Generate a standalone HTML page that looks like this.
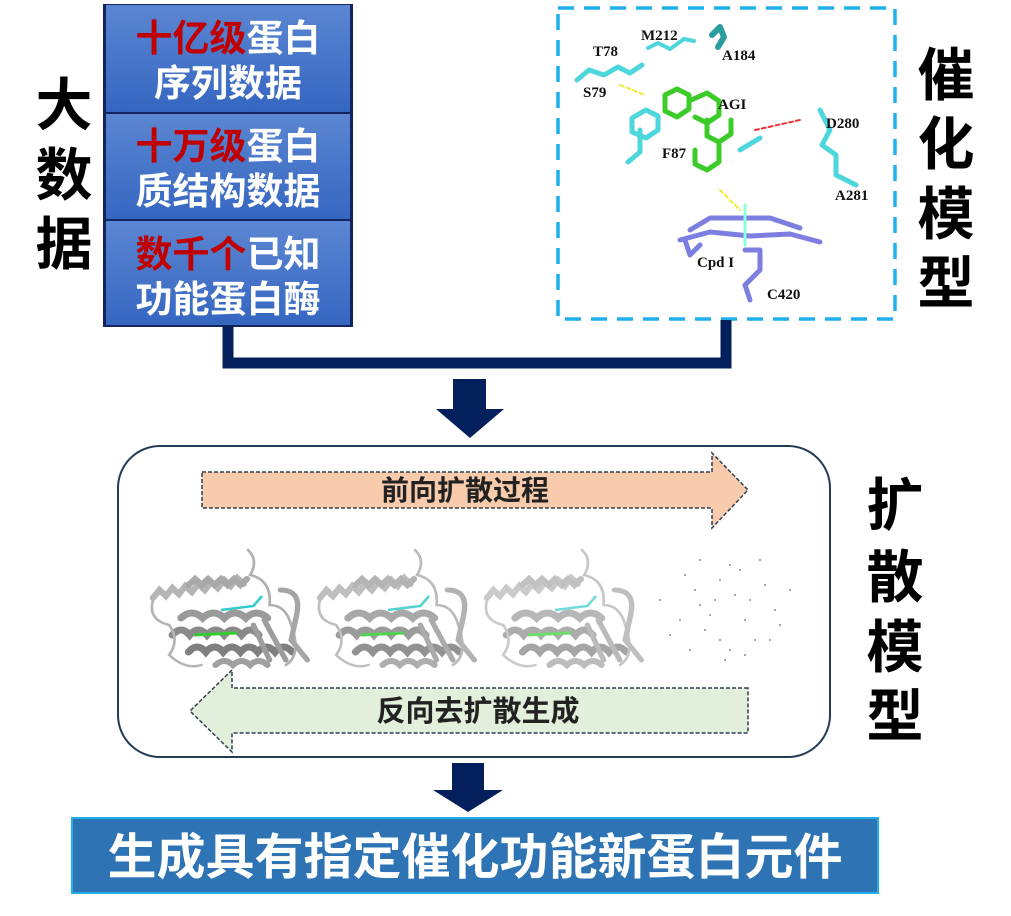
<!DOCTYPE html>
<html><head><meta charset="utf-8"><style>
html,body{margin:0;padding:0;background:#fff;}
svg{display:block;}
text{font-family:"Liberation Sans","Noto Sans CJK SC",sans-serif;font-weight:bold;}
</style></head><body>
<svg width="1011" height="916" viewBox="0 0 1011 916" xmlns="http://www.w3.org/2000/svg">
<defs>
<linearGradient id="bg" x1="0" y1="0" x2="0" y2="1">
<stop offset="0" stop-color="#5b86d2"/><stop offset="1" stop-color="#3566c0"/>
</linearGradient>
<g id="prot">
 <g fill="none" stroke="#9a9a9a" stroke-linecap="round">
  <path d="M12 58 l6 -8 l6 6 l6 -8 l6 6 l6 -8 l6 6 l6 -8 l6 6 l6 -8 l6 6 l6 -8 l6 6 l6 -8 l6 6" stroke-width="6" stroke="#b5b5b5"/>
  <path d="M45 45 l6 -6 l6 6 l6 -6 l6 6 l6 -6 l6 6 l6 -6 l6 6 l6 -6" stroke-width="6" stroke="#a8a8a8"/>
  <path d="M38 78 q10 -10 20 0 q10 -10 20 0 q10 -10 20 0 q10 -10 20 0" stroke-width="7"/>
  <path d="M30 95 q8 -10 16 0 q8 -10 16 0 q8 -10 16 0 q8 -10 16 0 q8 -10 16 0" stroke-width="7" stroke="#8a8a8a"/>
  <path d="M45 112 q8 -10 16 0 q8 -10 16 0 q8 -10 16 0 q8 -10 16 0 q8 -10 16 0 q8 -10 16 0" stroke-width="7" stroke="#7f7f7f"/>
  <path d="M70 125 q8 -8 16 0 q8 -8 16 0 q8 -8 16 0" stroke-width="6" stroke="#a0a0a0"/>
  <path d="M100 10 q10 10 2 25 q20 5 18 30 q15 0 20 20 q10 30 -5 40" stroke-width="2.5" stroke="#b0b0b0"/>
  <path d="M130 50 q20 0 15 25 l-5 25 l15 20" stroke-width="5" stroke="#a5a5a5"/>
  <path d="M12 60 q-5 20 15 25 q10 15 0 30 q15 15 30 10" stroke-width="2.5" stroke="#b5b5b5"/>
  <path d="M115 80 l20 40 M105 85 l15 35" stroke-width="5" stroke="#9d9d9d"/>
 </g>
 <path d="M75 70 l30 -4 l8 -10" stroke="#3cc" stroke-width="2.5" fill="none"/>
 <path d="M50 95 l40 -2" stroke="#3c3" stroke-width="3" fill="none"/>
</g>
</defs>

<!-- left vertical label -->
<text x="64" y="125" font-size="57" text-anchor="middle" fill="#000">大</text>
<text x="64" y="195" font-size="57" text-anchor="middle" fill="#000">数</text>
<text x="64" y="264" font-size="57" text-anchor="middle" fill="#000">据</text>

<!-- blue data box -->
<rect x="103" y="4" width="250" height="323" fill="#13245e"/>
<rect x="106" y="5" width="244" height="107" fill="url(#bg)"/>
<rect x="106" y="114" width="244" height="105" fill="url(#bg)"/>
<rect x="106" y="221" width="244" height="104" fill="url(#bg)"/>
<g font-size="37" text-anchor="middle">
<text x="228" y="51"><tspan fill="#c00000">十亿级</tspan><tspan fill="#fff">蛋白</tspan></text>
<text x="228" y="96" fill="#fff">序列数据</text>
<text x="228" y="159"><tspan fill="#c00000">十万级</tspan><tspan fill="#fff">蛋白</tspan></text>
<text x="228" y="204" fill="#fff">质结构数据</text>
<text x="228" y="267"><tspan fill="#c00000">数千个</tspan><tspan fill="#fff">已知</tspan></text>
<text x="228" y="312" fill="#fff">功能蛋白酶</text>
</g>

<!-- catalytic model dashed box -->
<rect x="558" y="8" width="337" height="311" fill="none" stroke="#1fb1ec" stroke-width="3.5" stroke-dasharray="16,10"/>
<g stroke-linecap="round" stroke-linejoin="round" fill="none">
 <path d="M577 80 l12 -10 l15 5 l14 -8 l12 6 l12 -8" stroke="#4dd6dc" stroke-width="5"/>
 <path d="M648 48 l10 -5 l12 6 l14 -10 l10 2" stroke="#4dd6dc" stroke-width="4"/>
 <path d="M712 35 l8 -8 l4 10 l-6 10" stroke="#2a9da0" stroke-width="6"/>
 <path d="M632 118 l14 -8 l12 6 l0 14 l-12 8 l-14 -6 z M640 130 l0 22 l-12 10" stroke="#4dd6dc" stroke-width="5"/>
 <path d="M665 95 l12 -6 l12 6 l0 14 l-12 8 l-12 -6 z M689 101 l18 -8 l12 8 l0 14 l-12 8 l-12 -6 M731 120 l0 14 l-12 8 l-12 -6 l0 -16 M719 142 l0 20 l-12 8 l-12 -6 l0 -14" stroke="#3ccc2a" stroke-width="5"/>
 <path d="M740 150 l20 -12 M820 110 l10 20 l-8 15 l14 10 l0 20 l20 10" stroke="#4dd6dc" stroke-width="5"/>
 <path d="M680 240 l30 -8 l40 4 l40 -2 l30 8 M690 230 l20 -12 l60 0 l30 10 M700 245 l-10 10 l-5 -15 M745 250 l15 0 l0 20 l-15 15 l5 15" stroke="#7d7fe0" stroke-width="5"/>
 <path d="M745 205 l0 40" stroke="#8fd" stroke-width="3"/>
 <path d="M755 130 l45 -10" stroke="#e33" stroke-width="2" stroke-dasharray="4,3"/>
 <path d="M720 190 l20 20" stroke="#ee3" stroke-width="2" stroke-dasharray="4,3"/>
 <path d="M620 85 l25 10" stroke="#ee3" stroke-width="2" stroke-dasharray="4,3"/>
</g>
<g font-size="15" fill="#111">
<text x="641" y="40" style="font-family:'Liberation Serif'">M212</text>
<text x="593" y="56" style="font-family:'Liberation Serif'">T78</text>
<text x="722" y="60" style="font-family:'Liberation Serif'">A184</text>
<text x="583" y="97" style="font-family:'Liberation Serif'">S79</text>
<text x="718" y="109" style="font-family:'Liberation Serif'">AGI</text>
<text x="826" y="128" style="font-family:'Liberation Serif'">D280</text>
<text x="662" y="158" style="font-family:'Liberation Serif'">F87</text>
<text x="835" y="200" style="font-family:'Liberation Serif'">A281</text>
<text x="697" y="267" style="font-family:'Liberation Serif'">Cpd I</text>
<text x="767" y="299" style="font-family:'Liberation Serif'">C420</text>
</g>

<!-- right labels -->
<g font-size="57" text-anchor="middle" fill="#000">
<text x="946" y="95">催</text>
<text x="946" y="164">化</text>
<text x="946" y="234">模</text>
<text x="946" y="303">型</text>
<text x="895" y="525">扩</text>
<text x="895" y="597">散</text>
<text x="895" y="667">模</text>
<text x="895" y="736">型</text>
</g>

<!-- connector -->
<path d="M228 326 V363 H726 V320" fill="none" stroke="#03205c" stroke-width="11"/>
<path d="M453 379 H486 V409 H504 L470 438 L436 409 H453 Z" fill="#03205c"/>

<!-- diffusion box -->
<rect x="118" y="446" width="712" height="311" rx="42" fill="#fff" stroke="#233b55" stroke-width="2"/>
<path d="M202 472 H712 V453 L748 490 L712 528 V508 H202 Z" fill="#f8cbad" stroke="#2f3e53" stroke-width="1.5" stroke-dasharray="4,2"/>
<text x="465" y="500" font-size="28" text-anchor="middle" fill="#222">前向扩散过程</text>
<path d="M748 688 H232 V670 L190 711 L232 752 V733 H748 Z" fill="#e2efda" stroke="#2f3e53" stroke-width="1.5" stroke-dasharray="4,2"/>
<text x="478" y="721" font-size="29" text-anchor="middle" fill="#222">反向去扩散生成</text>

<use href="#prot" transform="translate(140,540) scale(1.08,1)"/>
<use href="#prot" transform="translate(307,540) scale(1.08,1)" opacity="0.85"/>
<use href="#prot" transform="translate(474,540) scale(1.08,1)" opacity="0.7"/>
<g fill="#888">
 <circle cx="700" cy="560" r="1"/><circle cx="720" cy="580" r="1"/><circle cx="750" cy="600" r="1"/><circle cx="680" cy="620" r="1"/>
 <circle cx="770" cy="640" r="1"/><circle cx="730" cy="650" r="1"/><circle cx="790" cy="590" r="1"/><circle cx="660" cy="600" r="1"/>
 <circle cx="705" cy="630" r="1"/><circle cx="740" cy="570" r="1"/><circle cx="760" cy="560" r="1"/><circle cx="690" cy="650" r="1"/>
 <circle cx="715" cy="600" r="1"/><circle cx="745" cy="620" r="1"/><circle cx="775" cy="610" r="1"/><circle cx="725" cy="660" r="1"/>
 <circle cx="695" cy="590" r="1"/><circle cx="735" cy="595" r="1"/><circle cx="755" cy="640" r="1"/><circle cx="710" cy="615" r="1"/>
 <circle cx="685" cy="575" r="1"/><circle cx="765" cy="585" r="1"/><circle cx="720" cy="640" r="1"/><circle cx="745" cy="655" r="1"/>
 <circle cx="700" cy="605" r="1"/><circle cx="780" cy="625" r="1"/><circle cx="670" cy="635" r="1"/><circle cx="730" cy="565" r="1"/>
</g>

<!-- bottom -->
<path d="M452 763 H484 V790 H503 L468 812 L433 790 H452 Z" fill="#03205c"/>
<rect x="72" y="818" width="806" height="75" fill="#2e74b5" stroke="#22b0ea" stroke-width="2"/>
<text x="475" y="874" font-size="49" text-anchor="middle" fill="#fff">生成具有指定催化功能新蛋白元件</text>
</svg>
</body></html>
